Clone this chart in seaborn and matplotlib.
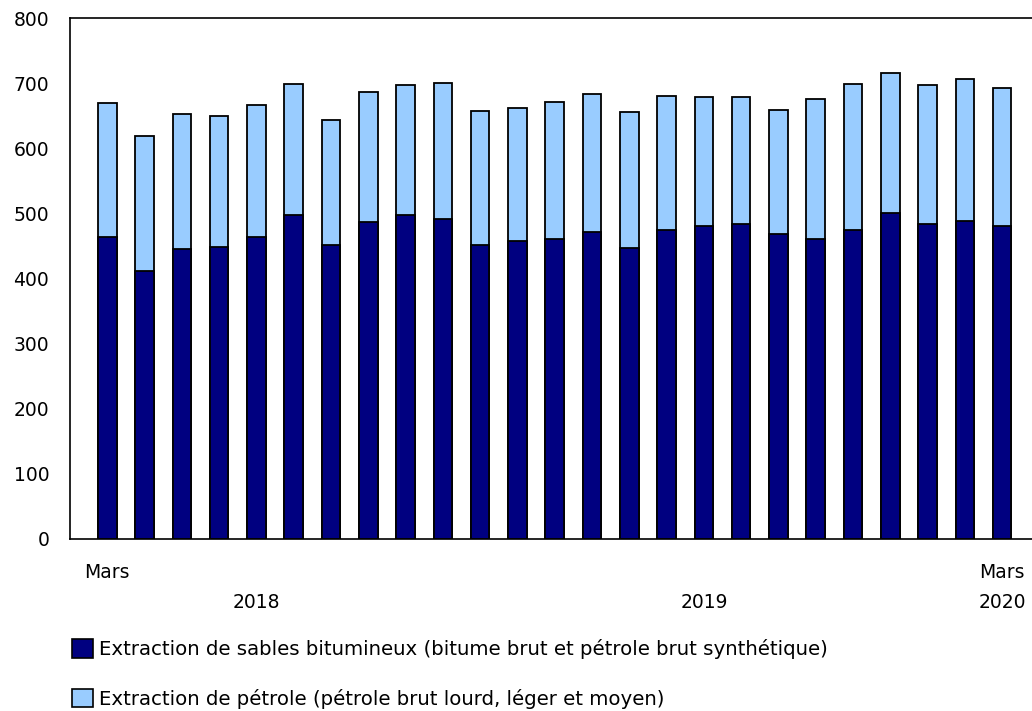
import pandas as pd
import matplotlib.pyplot as plt
import matplotlib.transforms as mtransforms
from matplotlib.patches import Patch
import seaborn as sns

months = [f"m{i:02d}" for i in range(25)]  # mars 2018 .. mars 2020

total = [669, 619, 652, 649, 667, 699, 643, 687, 697, 700, 657, 662, 671,
         683, 655, 680, 678, 678, 659, 676, 698, 716, 697, 706, 693]
sables = [463, 412, 446, 449, 463, 497, 451, 486, 498, 492, 451, 458, 460,
          472, 447, 474, 480, 484, 469, 460, 475, 501, 484, 488, 480]
petrole = [t - s for t, s in zip(total, sables)]

month_labels = {0: "Mars", 24: "Mars"}
year_labels = {4: "2018", 16: "2019", 24: "2020"}

label_sables = "Extraction de sables bitumineux (bitume brut et pétrole brut synthétique)"
label_petrole = "Extraction de pétrole (pétrole brut lourd, léger et moyen)"

dark = "#000080"
light = "#99ccff"

df = pd.DataFrame({"mois": months, "total": total, "sables": sables, "petrole": petrole})

sns.set_style("white")
plt.rcParams["font.family"] = ["DejaVu Sans"]
plt.rcParams["font.size"] = 13.5
plt.rcParams["text.color"] = "black"
plt.rcParams["ytick.color"] = "black"
plt.rcParams["ytick.labelcolor"] = "black"

fig = plt.figure(figsize=(10.32, 7.11), dpi=100)
ax = fig.add_axes([70 / 1032, 1 - 539 / 711, 1 - 70 / 1032, (539 - 18) / 711])

# total (light) drawn first, oil sands (dark) over it -> stacked look
sns.barplot(data=df, x="mois", y="total", order=months, color=light,
            width=0.5, edgecolor="black", linewidth=1.3, saturation=1, ax=ax)
sns.barplot(data=df, x="mois", y="sables", order=months, color=dark,
            width=0.5, edgecolor="black", linewidth=1.3, saturation=1, ax=ax)

ax.set_xlim(-1, 24.8)
ax.set_ylim(0, 800)
ax.set_yticks(range(0, 801, 100))
ax.set_xlabel("")
ax.set_ylabel("")
ax.tick_params(axis="y", direction="in", length=10, width=1.2, pad=15, labelsize=13.5)
ax.tick_params(axis="x", length=0, labelbottom=False)

for s in ["left", "bottom", "top"]:
    ax.spines[s].set_visible(True)
    ax.spines[s].set_color("black")
    ax.spines[s].set_linewidth(1.2)
ax.spines["right"].set_visible(False)

trans = mtransforms.blended_transform_factory(ax.transData, fig.transFigure)
for i, lab in month_labels.items():
    ax.text(i, 1 - 572 / 711, lab, transform=trans, ha="center", va="center", fontsize=13.5)
for i, lab in year_labels.items():
    ax.text(i, 1 - 602 / 711, lab, transform=trans, ha="center", va="center", fontsize=13.5)

handles = [Patch(facecolor=dark, edgecolor="black", linewidth=1.2),
           Patch(facecolor=light, edgecolor="black", linewidth=1.2)]
fig.legend(handles, [label_sables, label_petrole], loc="center left",
           bbox_to_anchor=(62 / 1032, 1 - 674 / 711), frameon=False,
           handlelength=1.05, handleheight=1.05, handletextpad=0.35,
           labelspacing=1.5, fontsize=14.2, borderpad=0)

fig.savefig("out.png", dpi=100)
